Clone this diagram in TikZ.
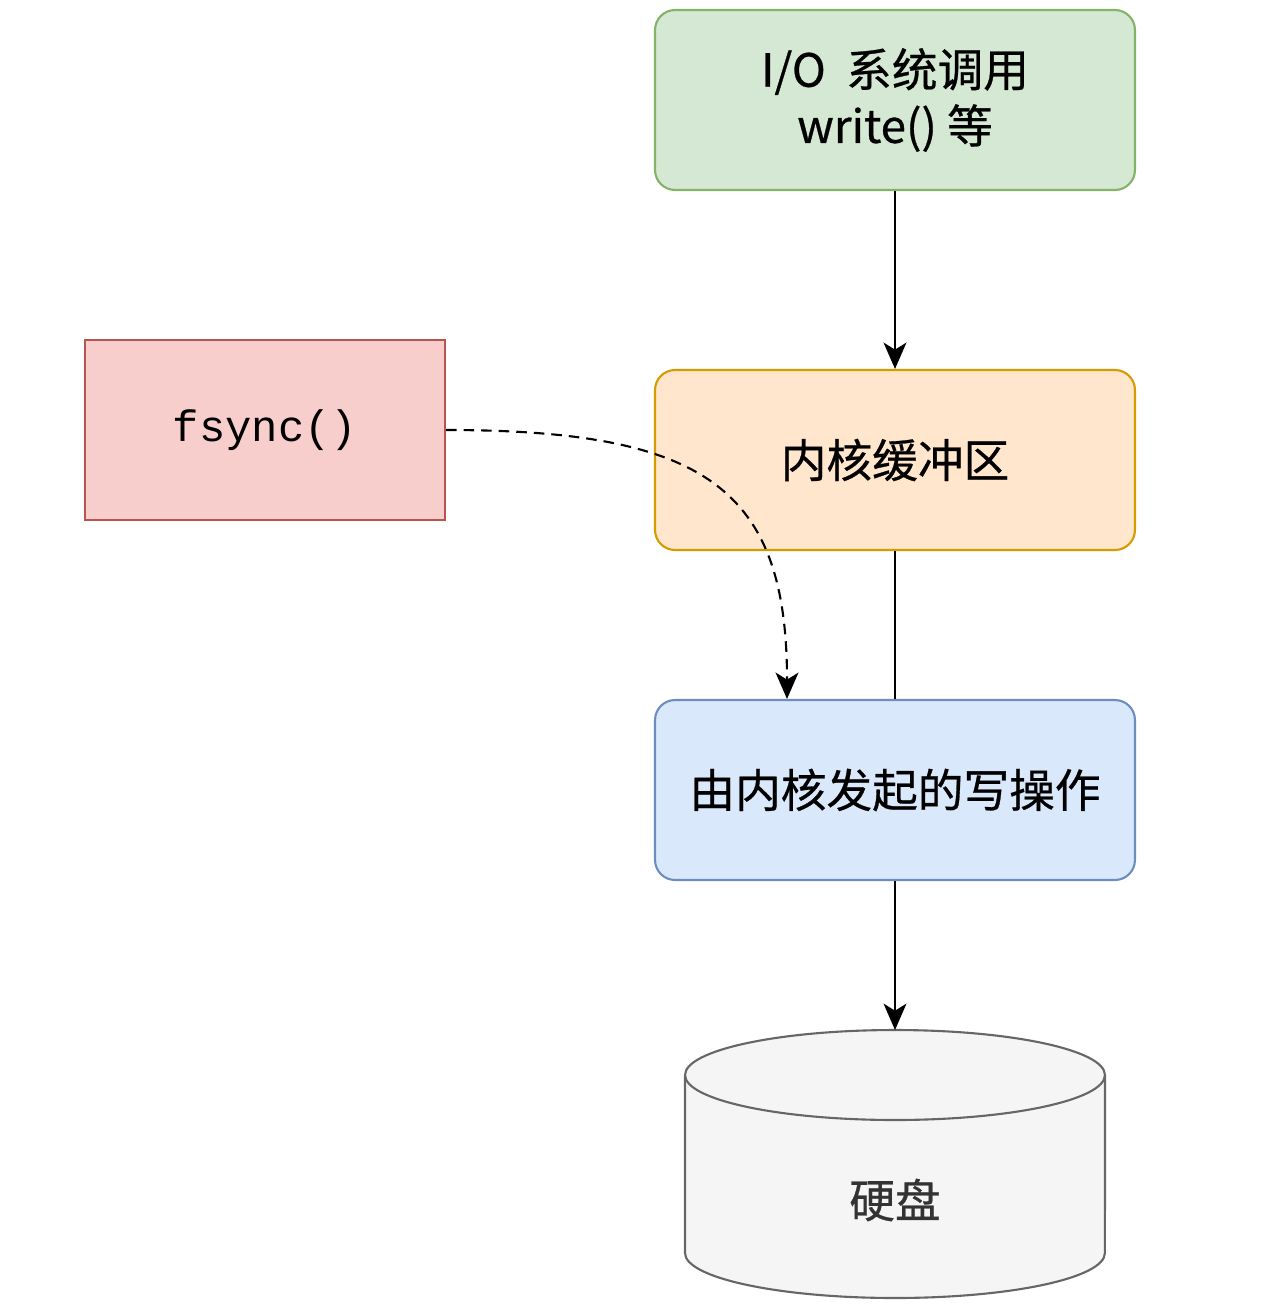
\documentclass[tikz,border=0pt]{standalone}
\usepackage{fontspec}
\setmainfont{Noto Sans CJK SC}[FakeBold=0.6]
\setmonofont{Liberation Mono}
\usepackage{xcolor}
\usetikzlibrary{arrows.meta,positioning,calc}

\definecolor{iofill}{HTML}{D5E8D4}
\definecolor{ioline}{HTML}{82B366}
\definecolor{buffill}{HTML}{FFE6CC}
\definecolor{bufline}{HTML}{D79B00}
\definecolor{kwfill}{HTML}{DAE8FC}
\definecolor{kwline}{HTML}{6C8EBF}
\definecolor{syncfill}{HTML}{F8CECC}
\definecolor{syncline}{HTML}{B85450}
\definecolor{diskfill}{HTML}{F5F5F5}
\definecolor{diskline}{HTML}{666666}

\begin{document}
\begin{tikzpicture}[
  x=0.02cm, y=-0.02cm,
  box/.style={rectangle,rounded corners=0.4cm,draw,line width=1.2pt,
    minimum width=9.6cm,minimum height=3.6cm,align=center,
    font=\fontsize{26}{32}\selectfont},
  iobox/.style={box,fill=iofill,draw=ioline},
  bufbox/.style={box,fill=buffill,draw=bufline},
  kwbox/.style={box,fill=kwfill,draw=kwline},
  syncbox/.style={rectangle,draw=syncline,fill=syncfill,line width=1.2pt,
    minimum width=7.2cm,minimum height=3.6cm,
    font=\ttfamily\fontsize{25}{30}\selectfont},
  disk/.style={draw=diskline,fill=diskfill,line width=1.2pt},
  arrow/.style={-{Stealth[length=15pt,width=13pt,inset=4pt]},line width=1.2pt},
  dasharrow/.style={arrow,dash pattern=on 6pt off 4pt}
]
\useasboundingbox (0,0) rectangle (1262,1316);

% Nodes
\node[iobox]   (io)   at (895,100) {I/O\ \ 系统调用\\write() 等};
\node[bufbox]  (buf)  at (895,460) {内核缓冲区};
\node[kwbox]   (kw)   at (895,790) {由内核发起的写操作};
\node[syncbox] (sync) at (265,430) {fsync()};

% Disk
\draw[disk] (685,1075) -- (685,1253)
  arc[start angle=180,end angle=360,x radius=4.2cm,y radius=0.9cm]
  -- (1105,1075);
\draw[disk] (895,1075) ellipse [x radius=4.2cm,y radius=0.9cm];
\coordinate (disktop) at (895,1030);
\node[font=\fontsize{26}{32}\selectfont,text=black!80] (hd) at (895,1200) {硬盘};

% Write path
\draw[arrow] (io) -- (buf);
\draw[line width=1.2pt] (buf) -- (kw);
\draw[arrow] (kw) -- (disktop);

% fsync
\draw[dasharrow] (sync.east) .. controls +(5.2cm,0) and +(0,4.2cm) .. ([xshift=-2.16cm]kw.north);
\end{tikzpicture}
\end{document}
